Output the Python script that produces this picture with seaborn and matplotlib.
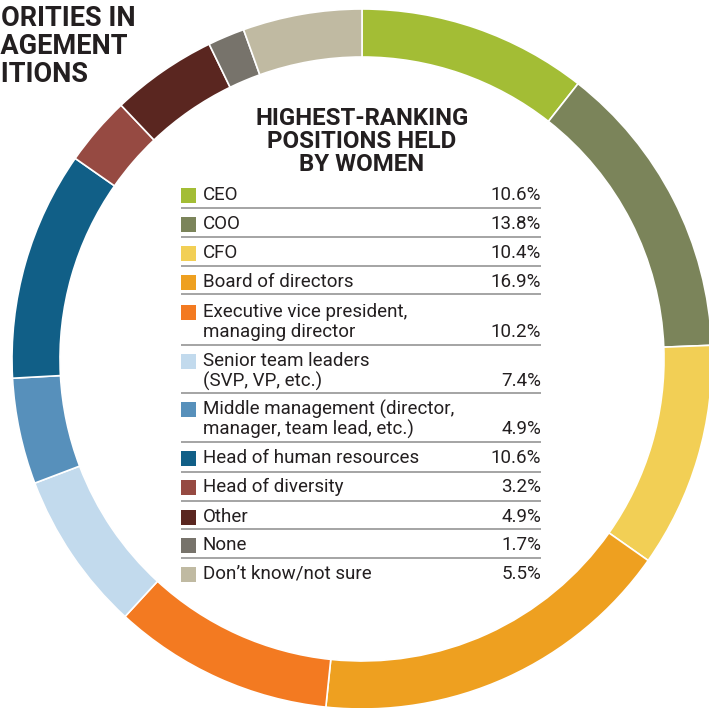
import matplotlib
matplotlib.use("Agg")
import matplotlib.pyplot as plt
from matplotlib.patches import Rectangle
import seaborn as sns

# Survey: highest-ranking positions held by women
categories = [
    "CEO",
    "COO",
    "CFO",
    "Board of directors",
    "Executive vice president,\nmanaging director",
    "Senior team leaders\n(SVP, VP, etc.)",
    "Middle management (director,\nmanager, team lead, etc.)",
    "Head of human resources",
    "Head of diversity",
    "Other",
    "None",
    "Don\u2019t know/not sure",
]
shares = [10.6, 13.8, 10.4, 16.9, 10.2, 7.4, 4.9, 10.6, 3.2, 4.9, 1.7, 5.5]
hex_colors = [
    "#a3bd35", "#7b845a", "#f2cf55", "#eea020", "#f37a21", "#c2daed",
    "#5790bb", "#115f87", "#964a42", "#5a2620", "#77736b", "#c0baa2",
]

# Section heading that runs off the left edge of the page
heading_lines = ["MINORITIES IN", "MANAGEMENT", "POSITIONS"]
heading_hidden = ["MIN", "MAN", "POS"]

sns.set_theme(style="white")
plt.rcParams["font.family"] = ["Roboto", "DejaVu Sans"]
palette = sns.color_palette(hex_colors)

W, H = 709, 708
fig = plt.figure(figsize=(W / 100, H / 100), dpi=100)
ax = fig.add_axes([0, 0, 1, 1])

ink = "#231f20"

# Donut ring
cx, cy, r_out, ring = 362, H - 359, 350, 48
ax.pie(shares, colors=palette, startangle=90, counterclock=False,
       center=(cx, cy), radius=r_out, frame=True,
       wedgeprops=dict(width=ring, edgecolor="white", linewidth=1.2))
ax.set_xlim(0, W)
ax.set_ylim(0, H)
ax.set_aspect("equal")
ax.axis("off")

# Heading lines, each shifted so its hidden lead-in sits past the edge
title_kw = dict(fontsize=19.5, fontweight="bold", color=ink)
renderer = fig.canvas.get_renderer()
for j, (line, hidden) in enumerate(zip(heading_lines, heading_hidden)):
    probe = ax.text(0, 0, hidden, **title_kw)
    lead = probe.get_window_extent(renderer).width
    probe.remove()
    ax.text(1 - lead, H - (18 + 28 * j), line, ha="left", va="center",
            **title_kw)

# Legend table inside the ring
ax.text(362, H - 107, "HIGHEST-RANKING\nPOSITIONS HELD\nBY WOMEN", ha="center",
        va="top", fontsize=17.3, fontweight="bold", color=ink, linespacing=1.0)

x_sw, x_txt, x_pct = 181, 203, 541
# pixel y of the last text line of each row
row_y = [195, 224, 253, 282, 332, 381, 429, 458, 487, 517, 545, 574]
rule_y = [208, 237, 266, 294, 345, 393, 442, 472, 501, 529, 558]
line_gap = 20

for i, (lab, val) in enumerate(zip(categories, shares)):
    n_lines = lab.count("\n") + 1
    y_last = row_y[i]
    y_first = y_last - (n_lines - 1) * line_gap
    ax.add_patch(Rectangle((x_sw, H - (y_first + 7.5)), 15, 15,
                           facecolor=palette[i], edgecolor="none"))
    for k, part in enumerate(lab.split("\n")):
        ax.text(x_txt, H - (y_first + k * line_gap), part, ha="left",
                va="center", fontsize=13.5, color=ink)
    ax.text(x_pct, H - y_last, f"{val:.1f}%", ha="right", va="center",
            fontsize=13.5, color=ink)

for ry in rule_y:
    ax.plot([x_sw, x_pct], [H - ry, H - ry], color="#8c8c8c", lw=1.1,
            solid_capstyle="butt")

fig.savefig("out.png", dpi=100)
